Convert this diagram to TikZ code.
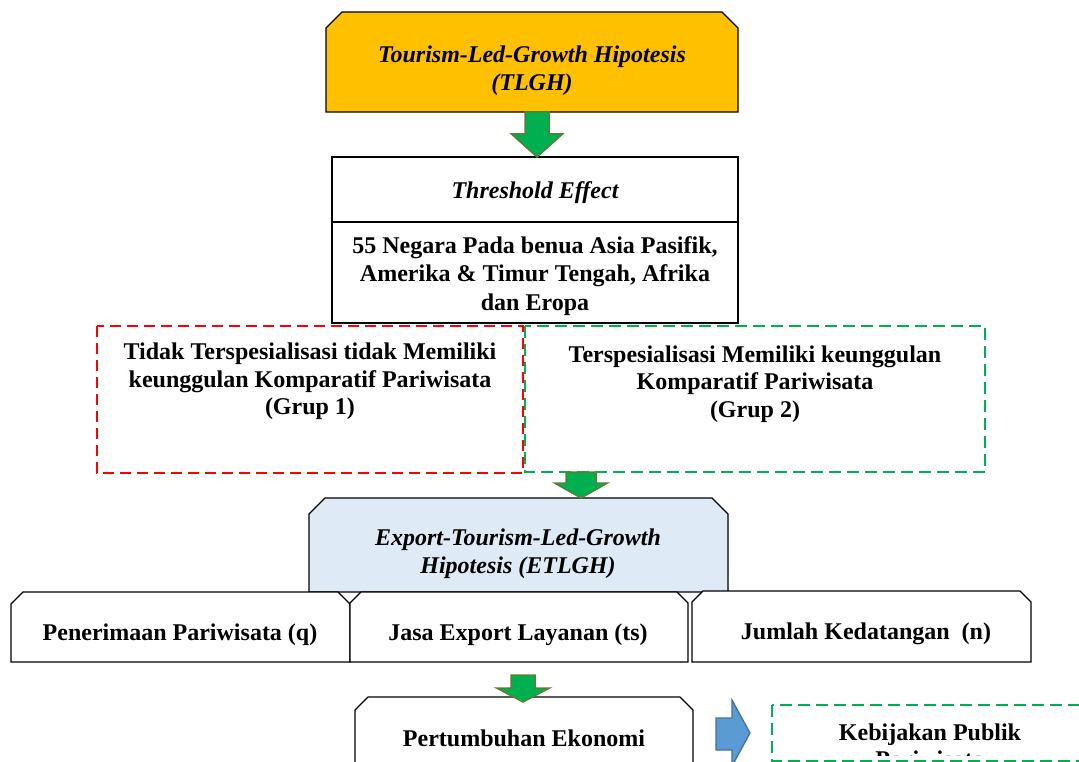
\documentclass[tikz,border=0pt]{standalone}
\usepackage{fontspec}
\setmainfont{Liberation Serif}
\definecolor{tlghfill}{HTML}{FFC000}
\definecolor{etlghfill}{HTML}{DEEBF7}
\definecolor{grn}{HTML}{00B050}
\definecolor{grnline}{HTML}{548235}
\definecolor{bluefill}{HTML}{5B9BD5}
\definecolor{blueline}{HTML}{41719C}
\definecolor{redd}{HTML}{FF0000}
\newcommand\snipbox[6]{%
  \path[#1] ({#2},{#3+#6}) -- ({#2+#6},{#3}) -- ({#4-#6},{#3}) -- ({#4},{#3+#6}) -- ({#4},{#5}) -- ({#2},{#5}) -- cycle;}
% down block arrow: style, cx, ytop, yhead, ytip, shaft half, head half
\newcommand\blockdown[7]{%
  \path[#1] ({#2-#6},{#3}) -- ({#2+#6},{#3}) -- ({#2+#6},{#4}) -- ({#2+#7},{#4}) -- ({#2},{#5}) -- ({#2-#7},{#4}) -- ({#2-#6},{#4}) -- cycle;}
\tikzset{
  txt/.style={font=\fontsize{24}{27.5}\selectfont\bfseries, align=center, inner sep=0pt},
  itxt/.style={font=\fontsize{24}{27.5}\selectfont\bfseries\itshape, align=center, inner sep=0pt},
  blk/.style={draw=black, line width=1.3pt, line join=miter},
  garrow/.style={fill=grn, draw=grnline, line width=1.5pt, line join=miter},
  barrow/.style={fill=bluefill, draw=blueline, line width=1.3pt, line join=miter},
  reddash/.style={draw=redd, line width=2.4pt, dash pattern=on 11pt off 6pt},
  grndash/.style={draw=grn, line width=2.4pt, dash pattern=on 12pt off 6pt},
}
\begin{document}
\begin{tikzpicture}[x=1pt,y=-1pt]
\useasboundingbox (0,0) rectangle (1079,762);
% boxes
\snipbox{blk, fill=tlghfill}{326}{12}{738}{112}{16}
\draw[blk, fill=white] (332,157) rectangle (738,222);
\draw[blk, fill=white] (332,222) rectangle (738,323);
\draw[reddash] (97,326) rectangle (523,473);
\draw[grndash] (525,326) rectangle (985,472);
\snipbox{blk, fill=etlghfill}{309}{498}{728}{592}{16}
\snipbox{blk, fill=white}{11}{592}{350}{662}{12}
\snipbox{blk, fill=white}{350}{592}{688}{662}{11}
\snipbox{blk, fill=white}{692}{591}{1031}{662}{11}
\snipbox{blk, fill=white}{355}{697}{693}{800}{13}
\draw[grndash] (772,705) rectangle (1095,761);
% block arrows
\blockdown{garrow}{537}{112}{134}{157}{12}{25.5}
\blockdown{garrow}{581}{472}{483}{498}{15}{26.5}
\blockdown{garrow}{523}{675}{688}{702}{12}{26.5}
\path[barrow] (716,718) -- (732,718) -- (732,700) -- (750,733) -- (732,766) -- (732,750) -- (716,750) -- cycle;
% texts
\node[itxt] (tlgh) at (532,70.5) {Tourism-Led-Growth Hipotesis\\(TLGH)};
\node[itxt] (thr) at (535,192.5) {Threshold Effect};
\node[txt, font=\fontsize{24}{28.5}\selectfont\bfseries] (neg) at (535,276) {55 Negara Pada benua Asia Pasifik,\\Amerika \& Timur Tengah, Afrika\\dan Eropa};
\node[txt] (g1) at (310,381.5) {Tidak Terspesialisasi tidak Memiliki\\keunggulan Komparatif Pariwisata\\(Grup 1)};
\node[txt] (g2) at (755,384) {Terspesialisasi Memiliki keunggulan\\Komparatif Pariwisata\\(Grup 2)};
\node[itxt] (etlgh) at (518,553.5) {Export-Tourism-Led-Growth\\Hipotesis (ETLGH)};
\node[txt] (q) at (180,634.5) {Penerimaan Pariwisata (q)};
\node[txt] (ts) at (518,634.5) {Jasa Export Layanan (ts)};
\node[txt] (n) at (866,633.5) {Jumlah Kedatangan\ \ (n)};
\node[txt] (pe) at (524,738.5) {Pertumbuhan Ekonomi};
\begin{scope}
\clip (772,700) rectangle (1079,755);
\node[txt] (kp) at (930,746) {Kebijakan Publik\\Pariwisata};
\end{scope}
\end{tikzpicture}
\end{document}
